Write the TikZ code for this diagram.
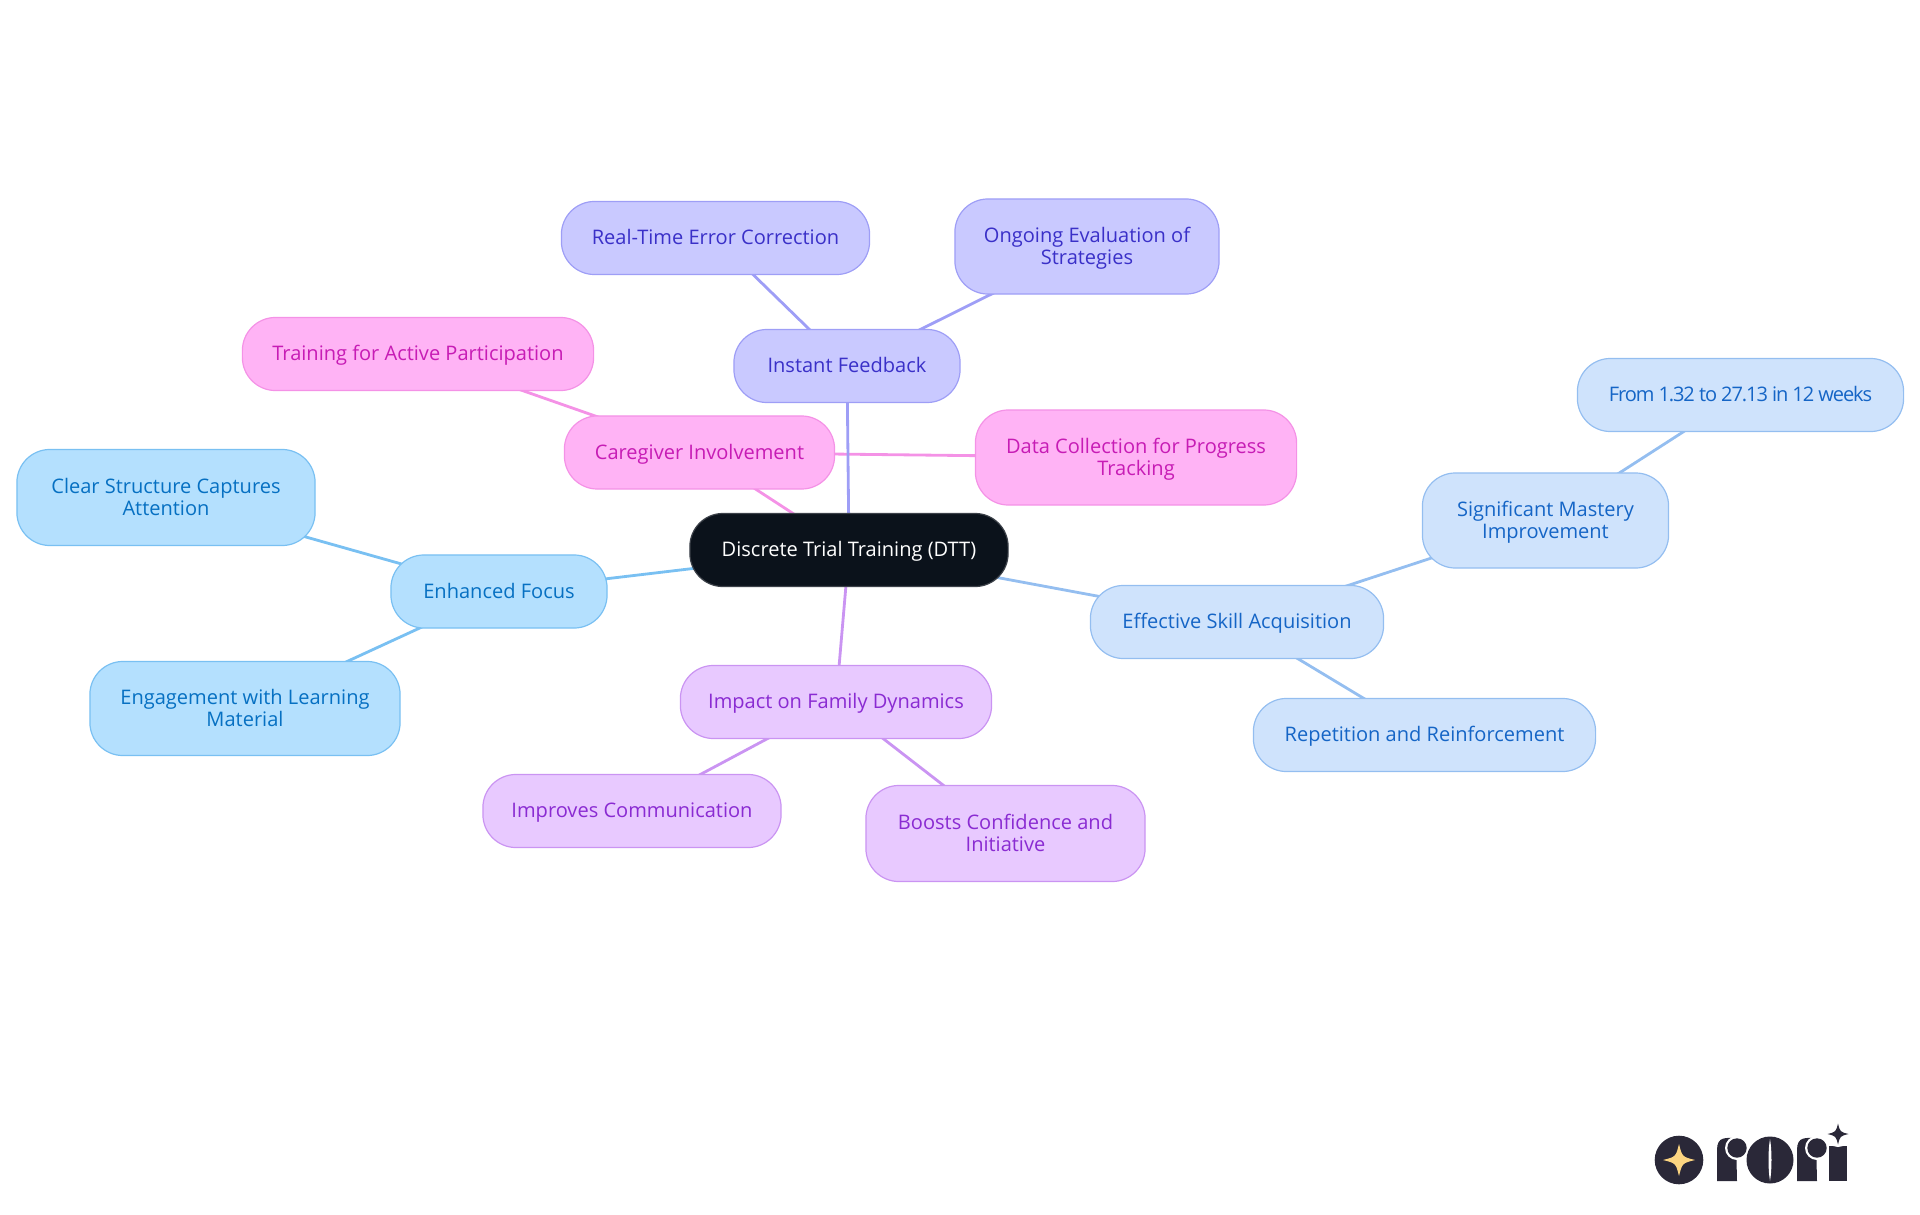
\documentclass[tikz,border=0pt]{standalone}
\usepackage{fontspec}
\setmainfont{Open Sans}
\usetikzlibrary{backgrounds}
\definecolor{rootfill}{HTML}{0B121B}
\definecolor{skyfill}{HTML}{B4E0FE}
\definecolor{skyline}{HTML}{79C0F2}
\definecolor{skytext}{HTML}{0670C2}
\definecolor{palefill}{HTML}{CFE3FC}
\definecolor{paleline}{HTML}{94BEF0}
\definecolor{paletext}{HTML}{1565C6}
\definecolor{indigofill}{HTML}{C9C9FF}
\definecolor{indigoline}{HTML}{9E9EF6}
\definecolor{indigotext}{HTML}{3A30C8}
\definecolor{pinkfill}{HTML}{FFB3F5}
\definecolor{pinkline}{HTML}{F492E6}
\definecolor{pinktext}{HTML}{C71CB5}
\definecolor{purplefill}{HTML}{E8C9FF}
\definecolor{purpleline}{HTML}{CA94F2}
\definecolor{purpletext}{HTML}{8A2BD2}
\definecolor{logodark}{HTML}{2A2838}
\definecolor{logostar}{HTML}{FCD581}
\newcommand{\logostar}[3]{\fill[#3] (#1-#2,\logoy) .. controls (#1-#2*0.2,\logoy-#2*0.2) .. (#1,\logoy-#2) .. controls (#1+#2*0.2,\logoy-#2*0.2) .. (#1+#2,\logoy) .. controls (#1+#2*0.2,\logoy+#2*0.2) .. (#1,\logoy+#2) .. controls (#1-#2*0.2,\logoy+#2*0.2) .. cycle;}
\begin{document}
\begin{tikzpicture}[
  x=0.01cm, y=-0.01cm,
  box/.style={rectangle, rounded corners=0.33cm, draw, line width=0.34pt,
              inner sep=0pt, align=center, text height=4.9pt, text depth=1.2pt,
              font=\fontsize{5.7}{6.26}\selectfont},
  twoline/.style={text height=11.2pt},
  root/.style={box, fill=rootfill, draw=rootfill!80!white, text=white},
  sky/.style={box, fill=skyfill, draw=skyline, text=skytext},
  pale/.style={box, fill=palefill, draw=paleline, text=paletext},
  indigo/.style={box, fill=indigofill, draw=indigoline, text=indigotext},
  pinkbox/.style={box, fill=pinkfill, draw=pinkline, text=pinktext},
  violet/.style={box, fill=purplefill, draw=purpleline, text=purpletext},
  link/.style={line width=0.8pt},
]
\useasboundingbox (0,0) rectangle (1920,1215);
% Centre
\node[root, minimum width=3.18cm, minimum height=0.73cm] (dtt) at (849,550) {Discrete Trial Training (DTT)};
% Enhanced focus
\node[sky, minimum width=2.16cm, minimum height=0.73cm] (focus) at (499,591.5) {Enhanced Focus};
\node[sky, twoline, minimum width=2.98cm, minimum height=0.96cm] (clear) at (166,497.5) {Clear Structure Captures\\Attention};
\node[sky, twoline, minimum width=3.10cm, minimum height=0.94cm] (engage) at (245,708.5) {Engagement with Learning\\Material};
% Caregiver
\node[pinkbox, minimum width=2.70cm, minimum height=0.73cm] (care) at (699.5,452.5) {Caregiver Involvement};
\node[pinkbox, minimum width=3.51cm, minimum height=0.73cm] (train) at (418,354) {Training for Active Participation};
\node[pinkbox, twoline, minimum width=3.21cm, minimum height=0.95cm] (data) at (1136,457.5) {Data Collection for Progress\\Tracking};
% Feedback
\node[indigo, minimum width=2.26cm, minimum height=0.73cm] (feed) at (847,366) {Instant Feedback};
\node[indigo, minimum width=3.08cm, minimum height=0.73cm] (error) at (715.5,238) {Real-Time Error Correction};
\node[indigo, twoline, minimum width=2.64cm, minimum height=0.95cm] (eval) at (1087,246.5) {Ongoing Evaluation of\\Strategies};
% Skill acquisition
\node[pale, minimum width=2.93cm, minimum height=0.73cm] (skill) at (1237,622) {Effective Skill Acquisition};
\node[pale, twoline, minimum width=2.46cm, minimum height=0.95cm] (mastery) at (1545.5,520.5) {Significant Mastery\\Improvement};
\node[pale, minimum width=3.26cm, minimum height=0.73cm, font=\fontsize{5.7}{6.26}\selectfont\addfontfeatures{LetterSpace=-5.5}] (weeks) at (1740.5,395) {From 1.32 to 27.13 in 12 weeks};
\node[pale, minimum width=3.42cm, minimum height=0.73cm] (repeat) at (1424.5,735) {Repetition and Reinforcement};
% Family
\node[violet, minimum width=3.11cm, minimum height=0.73cm] (family) at (836,702) {Impact on Family Dynamics};
\node[violet, minimum width=2.98cm, minimum height=0.73cm] (comm) at (632,811) {Improves Communication};
\node[violet, twoline, minimum width=2.79cm, minimum height=0.96cm] (boost) at (1005.5,833.5) {Boosts Confidence and\\Initiative};
% Links behind the boxes
\begin{scope}[on background layer]
\foreach \from/\to/\col in {dtt/focus/skyline, focus/clear/skyline, focus/engage/skyline,
    dtt/care/pinkline, care/train/pinkline, care/data/pinkline,
    dtt/feed/indigoline, feed/error/indigoline, feed/eval/indigoline,
    dtt/skill/paleline, skill/mastery/paleline, mastery/weeks/paleline, skill/repeat/paleline,
    dtt/family/purpleline, family/comm/purpleline, family/boost/purpleline}
  \draw[link, \col] (\from.center) -- (\to.center);
\end{scope}
% Logo
\fill[logodark] (1679,1160) circle (24.3);
\def\logoy{1160}
\logostar{1679}{16}{logostar}
\fill[logodark] (1717,1181) -- (1717,1150) .. controls (1717,1136) and (1726,1138) .. (1736,1138) -- (1737,1181) -- cycle;
\fill[white] (1737,1148) circle (12);
\fill[logodark] (1737,1148) circle (9.7);
\fill[logodark] (1770,1160) circle (23.5);
\fill[white] (1770,1139) .. controls (1768,1150) and (1768,1170) .. (1770,1181) .. controls (1772,1170) and (1772,1150) .. (1770,1139) -- cycle;
\fill[logodark] (1797,1181) -- (1797,1150) .. controls (1797,1136) and (1806,1138) .. (1816,1138) -- (1817,1181) -- cycle;
\fill[white] (1817,1148) circle (12);
\fill[logodark] (1817,1148) circle (9.7);
\fill[logodark] (1829,1181) rectangle (1847,1146);
\fill[white] (1838,1134) circle (13);
\def\logoy{1134}
\logostar{1838}{10.5}{logodark}
\end{tikzpicture}
\end{document}
